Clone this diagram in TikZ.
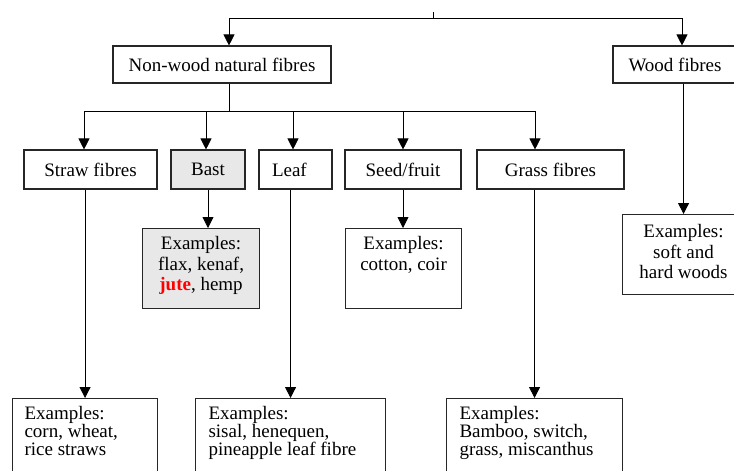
\documentclass[tikz,border=0pt]{standalone}
\usepackage{fontspec}
\setmainfont{Liberation Serif}
\usepackage{xcolor}
\usetikzlibrary{positioning,arrows.meta}

\newcommand{\exlines}[3]{\parbox[t][#1][t]{#2}{#3}}

\begin{document}
\begin{tikzpicture}[x=1pt, y=-1pt, font=\fontsize{19}{20.5}\selectfont, line width=0.8pt,
	box/.style={draw=black!85, line width=1.1pt, inner sep=0pt, minimum height=37pt, align=center},
	exbox/.style={draw=black!85, line width=1.1pt, inner xsep=0pt, inner ysep=8pt, anchor=north west},
	arr/.style={-{Triangle[width=11pt,length=11pt]}}]
		\useasboundingbox (0,0) rectangle (734,471);
		% main groups
		\node[box, minimum width=218pt] (nonwood) at (222,64.5) {Non-wood natural fibres};
		\node[box, minimum width=124pt] (wood) at (675,64.5) {Wood fibres};
		% non-wood kinds
		\node[box, minimum width=133pt, minimum height=39pt] (straw) at (90.5,169.5) {Straw fibres};
		\node[box, minimum width=74pt, minimum height=39pt, fill=gray!18] (bast) at (208,169.5) {Bast};
		\node[box, minimum width=73pt, minimum height=39pt, text width=47pt, align=left] (leaf) at (295.5,169.5) {Leaf};
		\node[box, minimum width=116pt, minimum height=39pt] (seed) at (403,169.5) {Seed/fruit};
		\node[box, minimum width=147pt, minimum height=39pt] (grass) at (550.5,169.5) {Grass fibres};
		% examples
		\node[exbox, fill=gray!18] (bastex) at (142,228) {\exlines{64pt}{117pt}{\centering Examples:\\flax, kenaf,\\\textcolor{red}{\textbf{jute}}, hemp}};
		\node[exbox] (seedex) at (345,228) {\exlines{64pt}{116pt}{\centering Examples:\\cotton, coir}};
		\node[exbox, inner ysep=10pt] (woodex) at (622,214) {\exlines{60pt}{122pt}{\centering Examples:\\soft and\\hard woods}};
		\node[exbox, inner xsep=12pt] (strawex) at (12,398) {\exlines{80pt}{121pt}{\raggedright\fontsize{19}{18}\selectfont Examples:\\corn, wheat,\\rice straws}};
		\node[exbox, inner xsep=13pt] (leafex) at (195,398) {\exlines{80pt}{164pt}{\raggedright\fontsize{19}{18}\selectfont Examples:\\sisal, henequen,\\pineapple leaf fibre}};
		\node[exbox, inner xsep=13pt] (grassex) at (446,398) {\exlines{80pt}{150pt}{\raggedright\fontsize{19}{18}\selectfont Examples:\\Bamboo, switch,\\grass, miscanthus}};
		% connectors
		\coordinate (root) at (433,12);
		\coordinate (rootbar) at (433,18);
		\draw (root) -- (rootbar);
		\draw[arr] (rootbar) -| ([xshift=7pt]nonwood.north);
		\draw[arr] (rootbar) -| ([xshift=7pt]wood.north);
		\draw ([xshift=7pt]nonwood.south) -- ++(0,28) coordinate (split);
		\draw[arr] (split) -| ([xshift=-6.5pt]straw.north);
		\draw[arr] (split) -| ([xshift=-2pt]bast.north);
		\draw[arr] (split) -| ([xshift=-2.5pt]leaf.north);
		\draw[arr] (split) -| (seed.north);
		\draw[arr] (split) -| ([xshift=-15.5pt]grass.north);
		\draw[arr] (bast.south) -- (bast.south |- bastex.north);
		\draw[arr] (seed.south) -- (seed.south |- seedex.north);
		\draw[arr] (woodex.north |- wood.south) -- (woodex.north);
		\draw[arr] (strawex.north |- straw.south) -- (strawex.north);
		\draw[arr] (leafex.north |- leaf.south) -- (leafex.north);
		\draw[arr] (grassex.north |- grass.south) -- (grassex.north);
	\end{tikzpicture}
\end{document}
